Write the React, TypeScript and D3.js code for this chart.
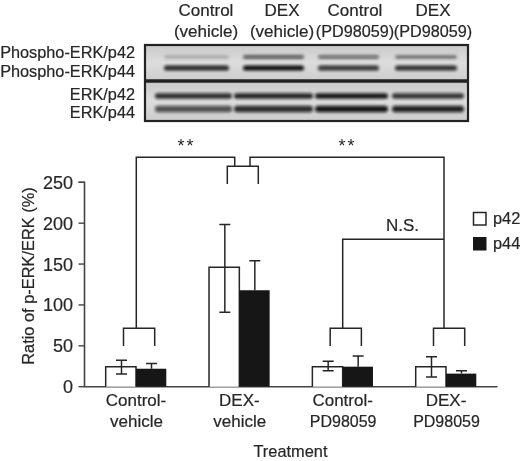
import React from "react";
import * as d3 from "d3";

const categories = ["Control-|vehicle", "DEX-|vehicle", "Control-|PD98059", "DEX-|PD98059"];
const seriesNames = ["p42", "p44"];
const p42Values = [24.5, 146, 24.5, 24.5];
const p44Values = [22, 118, 24.5, 16];
const p42Upper = [32.5, 198.5, 31, 36.5];
const p42Lower = [15.5, 91, 19.5, 12];
const p44Upper = [28.5, 154, 37.5, 19.5];
const p44Lower = [22, 118, 24.5, 16];
const yTicks = [0, 50, 100, 150, 200, 250];
const laneTitles = [["Control", "(vehicle)"], ["DEX", "(vehicle)"], ["Control", "(PD98059)"], ["DEX", "(PD98059)"]];
const blotLabels = ["Phospho-ERK/p42", "Phospho-ERK/p44", "ERK/p42", "ERK/p44"];
const bandPhosphoP42 = [0.22, 0.68, 0.58, 0.5];
const bandPhosphoP44 = [0.88, 1, 0.82, 0.85];
const bandTotalP42 = [0.85, 0.9, 0.95, 0.82];
const bandTotalP44 = [0.68, 0.85, 0.95, 0.9];

const W = 520, H = 461;
const x = d3.scalePoint<number>().domain([0, 1, 2, 3]).range([136, 446]);
const y = d3.scaleLinear().domain([0, 250]).range([386.7, 182.3]);
const axisX = 84.5, axisEnd = 497.5;
const barW = 30.3;
const font = "'Liberation Sans', Arial, sans-serif";
const ink = "#262626";
const ls = 1.5;

function Bands({ vals, yPos, lanes, h }: { vals: number[]; yPos: number; lanes: number[][]; h: number }) {
  return (
    <g>
      {vals.map((v, i) => (
        <rect key={i} x={lanes[i][0]} y={yPos - h} width={lanes[i][1] - lanes[i][0]} height={2 * h} rx={h}
          fill="#0c0c0c" opacity={v} />
      ))}
    </g>
  );
}

export default function App() {
  const phosphoLanes = [[164, 229], [243, 304], [318, 379], [395, 457]];
  const totalLanes = [[155, 232], [234, 313], [315, 388], [392, 464]];
  return (
    <svg width={W} height={H} style={{ position: "absolute", left: 0, top: 0, background: "#fff" }} fontFamily={font} fill={ink} stroke="none">
      <defs>
        <filter id="soft" x="-5%" y="-5%" width="110%" height="110%"><feGaussianBlur stdDeviation="0.4" /></filter>
        <filter id="band" x="-10%" y="-100%" width="120%" height="300%"><feGaussianBlur stdDeviation="1.5" /></filter>
        <linearGradient id="panelBg" x1="0" x2="0" y1="0" y2="1">
          <stop offset="0" stopColor="#c9c9c9" />
          <stop offset="0.5" stopColor="#dddddd" />
          <stop offset="1" stopColor="#cdcdcd" />
        </linearGradient>
      </defs>
      <g filter="url(#soft)">
        {laneTitles.map((t, i) => {
          const cx = [206, 282, 355, 433][i];
          return (
            <g key={i} textAnchor="middle" stroke={ink} strokeWidth={0.2}>
              <text x={cx} y={15.5} fontSize={17}>{t[0]}</text>
              <text x={cx} y={36.5} fontSize={t[1] === "(vehicle)" ? 17 : 16.2}>{t[1]}</text>
            </g>
          );
        })}
        <rect x={145} y={45} width={323} height={35} fill="url(#panelBg)" />
        <rect x={145} y={82} width={323} height={38} fill="url(#panelBg)" />
        <g filter="url(#band)">
          <Bands vals={bandPhosphoP42} yPos={57} lanes={phosphoLanes} h={1.8} />
          <Bands vals={bandPhosphoP44} yPos={68} lanes={phosphoLanes} h={2.6} />
          <Bands vals={bandTotalP42} yPos={96} lanes={totalLanes} h={2.8} />
          <Bands vals={bandTotalP44} yPos={109} lanes={totalLanes} h={3.2} />
        </g>
        <rect x={145} y={45} width={323} height={76} fill="none" stroke="#222" strokeWidth={2.2} />
        <line x1={145} x2={468} y1={81} y2={81} stroke="#222" strokeWidth={3.4} />
        {blotLabels.map((t, i) => (
          <text key={t} x={135} y={[58, 76.5, 99.5, 117.5][i]} fontSize={16.3} textAnchor="end" stroke={ink} strokeWidth={0.2}>{t}</text>
        ))}

        <path d={`M${axisX - 6},${y(250)}H${axisX}V${y(0)}H${axisEnd}`} fill="none" stroke="#444" strokeWidth={1.6} />
        {yTicks.map((t) => (
          <g key={t}>
            <line x1={78.5} x2={axisX} y1={y(t)} y2={y(t)} stroke="#444" strokeWidth={1.4} />
            <text x={73} y={y(t) + 6.5} fontSize={18} textAnchor="end" stroke={ink} strokeWidth={0.2}>{t}</text>
          </g>
        ))}
        <text transform="translate(34,276) rotate(-90)" fontSize={16.4} textAnchor="middle" stroke={ink} strokeWidth={0.2}>Ratio of p-ERK/ERK (%)</text>

        {categories.map((c, i) => {
          const cx = x(i)!;
          const wTop = y(p42Values[i]), bTop = y(p44Values[i]);
          const ex1 = cx - 14.5, ex2 = cx + 15.5;
          const [l1, l2] = c.split("|");
          return (
            <g key={c}>
              <path d={`M${cx - barW},${y(0)}V${wTop}H${cx}V${y(0)}`} fill="#fff" stroke={ink} strokeWidth={ls} />
              <rect x={cx} y={bTop} width={barW} height={y(0) - bTop} fill="#191919" />
              <path d={`M${ex1},${y(p42Lower[i])}V${y(p42Upper[i])}M${ex1 - 5.5},${y(p42Upper[i])}h11M${ex1 - 5.5},${y(p42Lower[i])}h11`} fill="none" stroke={ink} strokeWidth={ls} />
              <path d={`M${ex2},${y(p44Lower[i])}V${y(p44Upper[i])}M${ex2 - 5.5},${y(p44Upper[i])}h11`} fill="none" stroke={ink} strokeWidth={ls} />
              <g textAnchor="middle" stroke={ink} strokeWidth={0.2}>
                <text x={cx} y={406} fontSize={17}>{l1}</text>
                <text x={cx + 0.5} y={426.7} fontSize={l2 === "PD98059" ? 16 : 17}>{l2}</text>
              </g>
              {i !== 1 && <path d={`M${cx - 12.5},346V328.3H${cx + 18.7}V346`} fill="none" stroke={ink} strokeWidth={ls} />}
            </g>
          );
        })}
        <text x={290.5} y={456.7} fontSize={16.4} textAnchor="middle" stroke={ink} strokeWidth={0.2}>Treatment</text>

        <path d="M136.3,328.3V157.3H234.7V166" fill="none" stroke={ink} strokeWidth={ls} />
        <path d="M227.3,184V166.3H258.3V184" fill="none" stroke={ink} strokeWidth={ls} />
        <path d="M250,166V157.3H444V328.3" fill="none" stroke={ink} strokeWidth={ls} />
        <path d="M342.7,328.3V239.3H444" fill="none" stroke={ink} strokeWidth={ls} />
        <text x={186.5} y={152} fontSize={18} textAnchor="middle" letterSpacing={2}>**</text>
        <text x={347.5} y={152} fontSize={18} textAnchor="middle" letterSpacing={2}>**</text>
        <text x={402.5} y={231} fontSize={17} textAnchor="middle" stroke={ink} strokeWidth={0.2}>N.S.</text>

        <rect x={473.5} y={212.5} width={12.5} height={12.5} fill="#fff" stroke={ink} strokeWidth={ls} />
        <rect x={473} y={237} width={13.5} height={13.5} fill="#191919" />
        <text x={493} y={224} fontSize={16.4} stroke={ink} strokeWidth={0.2}>{seriesNames[0]}</text>
        <text x={493} y={249} fontSize={16.4} stroke={ink} strokeWidth={0.2}>{seriesNames[1]}</text>
      </g>
    </svg>
  );
}
